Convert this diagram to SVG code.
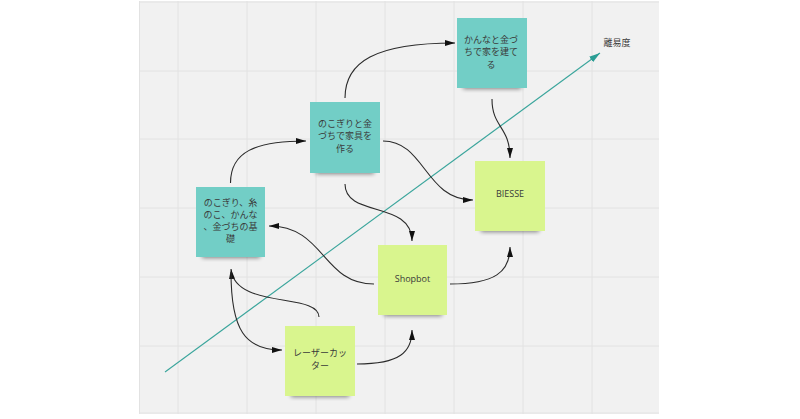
<svg xmlns="http://www.w3.org/2000/svg" width="800" height="419" viewBox="0 0 800 419">
<defs>
<style>
.grid{stroke:#e2e2e2;stroke-width:1}
.conn{fill:none;stroke:#2b2b2b;stroke-width:1.1}
.teal{fill:#72cec6}
.lime{fill:#d9f58e}
.t{font-family:"Noto Sans CJK JP","Noto Sans",sans-serif;font-size:9px;fill:#3a3a3a;text-anchor:middle}
.l{font-family:"Open Sans","Noto Sans",sans-serif;font-size:9px;fill:#3a3a3a;text-anchor:middle}
.sh{fill:#000;opacity:0.45;filter:url(#blur)}
</style>
<filter id="blur" x="-20%" y="-50%" width="140%" height="200%"><feGaussianBlur stdDeviation="2"/></filter>
<marker id="ah" viewBox="0 0 10 6" refX="10" refY="3" markerWidth="10" markerHeight="6" markerUnits="userSpaceOnUse" orient="auto"><path d="M0,0 L10,3 L0,6 Z" fill="#111"/></marker>
<marker id="ta" viewBox="0 0 10 6" refX="10" refY="3" markerWidth="11" markerHeight="7" markerUnits="userSpaceOnUse" orient="auto"><path d="M0,0 L10,3 L0,6 Z" fill="#2a9d94"/></marker>
</defs>
<rect width="800" height="419" fill="#ffffff"/>
<rect x="139" y="1" width="520" height="413" fill="#f1f1f1"/>
<g id="grid">
<line class="grid" x1="178" y1="1" x2="178" y2="414"/>
<line class="grid" x1="247" y1="1" x2="247" y2="414"/>
<line class="grid" x1="316" y1="1" x2="316" y2="414"/>
<line class="grid" x1="385" y1="1" x2="385" y2="414"/>
<line class="grid" x1="454" y1="1" x2="454" y2="414"/>
<line class="grid" x1="523" y1="1" x2="523" y2="414"/>
<line class="grid" x1="592" y1="1" x2="592" y2="414"/>
<line class="grid" x1="139" y1="71" x2="659" y2="71"/>
<line class="grid" x1="139" y1="139" x2="659" y2="139"/>
<line class="grid" x1="139" y1="208" x2="659" y2="208"/>
<line class="grid" x1="139" y1="277" x2="659" y2="277"/>
<line class="grid" x1="139" y1="346" x2="659" y2="346"/>
<line class="grid" x1="139" y1="413" x2="659" y2="413"/>
<line class="grid" x1="139" y1="2" x2="659" y2="2"/>
<line class="grid" x1="139.5" y1="1" x2="139.5" y2="414"/>
</g>
<g id="axis">
<line x1="165" y1="372" x2="600" y2="53" stroke="#3aa59c" stroke-width="1.1" marker-end="url(#ta)"/>
<text x="617" y="46" class="t" font-size="9.5">離易度</text>
</g>
<g id="n1"><rect class="sh" x="202" y="250" width="58" height="8"/><rect class="teal" x="196" y="187" width="69" height="70"/>
<text class="t"><tspan x="230.5" y="205.5">のこぎり、糸</tspan><tspan x="230.5" y="217.5">のこ、かんな</tspan><tspan x="230.5" y="229.5">、金づちの基</tspan><tspan x="230.5" y="242">礎</tspan></text></g>
<g id="n2"><rect class="sh" x="316" y="166" width="58" height="8"/><rect class="teal" x="310" y="102" width="70" height="71"/>
<text class="t"><tspan x="345" y="126.5">のこぎりと金</tspan><tspan x="345" y="139">づちで家具を</tspan><tspan x="345" y="151.5">作る</tspan></text></g>
<g id="n3"><rect class="sh" x="463" y="81" width="58" height="8"/><rect class="teal" x="457" y="18" width="70" height="70"/>
<text class="t"><tspan x="491" y="42.5">かんなと金づ</tspan><tspan x="491" y="55">ちで家を建て</tspan><tspan x="491" y="67.5">る</tspan></text></g>
<g id="n4"><rect class="sh" x="481" y="224" width="58" height="8"/><rect class="lime" x="475" y="161" width="70" height="70"/>
<text class="l" x="510" y="196.5">BIESSE</text></g>
<g id="n5"><rect class="sh" x="384" y="308" width="58" height="8"/><rect class="lime" x="378" y="245" width="69" height="70"/>
<text class="l" x="412.5" y="281.5">Shopbot</text></g>
<g id="n6"><rect class="sh" x="291" y="389" width="58" height="8"/><rect class="lime" x="285" y="326" width="70" height="70"/>
<text class="t"><tspan x="320" y="356">レーザーカッ</tspan><tspan x="320" y="368.5">ター</tspan></text></g>
<g id="connectors">
<path class="conn" d="M230.5,183 C230.5,152 255,141 306,141" marker-end="url(#ah)"/>
<path class="conn" d="M345,98 C345,62 375,43 455,43" marker-end="url(#ah)"/>
<path class="conn" d="M492,99 C492,128 510,126 510,158" marker-end="url(#ah)"/>
<path class="conn" d="M383,141 C425,141 425,200 473,200" marker-end="url(#ah)"/>
<path class="conn" d="M345,184 C345,218 412,200 412,241" marker-end="url(#ah)"/>
<path class="conn" d="M374,284 C322,284 325,226 269,226" marker-end="url(#ah)"/>
<path class="conn" d="M450,284 C495,284 510,272 510,247" marker-end="url(#ah)"/>
<path class="conn" d="M357,364 C400,364 412,352 412,330" marker-end="url(#ah)"/>
<path class="conn" d="M319,317 C319,292 235,310 231,269" marker-end="url(#ah)"/>
<path class="conn" d="M231,272 C231,330 245,350 282,350" marker-end="url(#ah)"/>
</g>
</svg>
